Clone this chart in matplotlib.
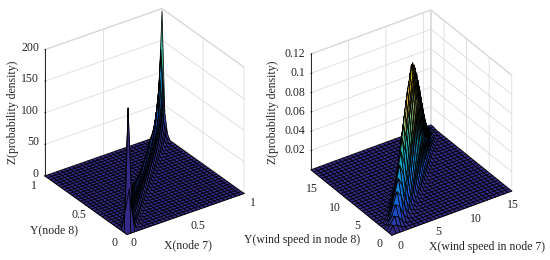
import numpy as np
import matplotlib
matplotlib.use('Agg')
import matplotlib.pyplot as plt
from matplotlib.colors import LinearSegmentedColormap
from mpl_toolkits.mplot3d import proj3d

plt.rcParams['font.family'] = ['Liberation Serif', 'DejaVu Serif']
plt.rcParams['font.size'] = 8.5

parula_colors = ['#352a87', '#0f5cdd', '#1481d6', '#06a4ca', '#2eb7a4',
                 '#87bf77', '#d1bb59', '#fec832', '#f9fb0e']
parula = LinearSegmentedColormap.from_list('parula', parula_colors)

# left panel: ridge heights along the diagonal, then the cells beside it
left_diag = [0, 195, 62, 58, 55, 52, 49, 47, 45, 44, 43, 42, 41, 41, 41, 41,
             42, 43, 44, 45, 46, 47, 48, 50, 55, 62, 72, 85, 105, 140, 195]
left_off1 = [0, 30, 18, 16, 14, 13, 12, 11, 11, 10, 10, 10, 10, 10, 10, 10,
             10, 10, 11, 11, 11, 12, 12, 13, 14, 16, 18, 22, 28, 40]
left_off2 = [0, 2, 4, 3, 3, 2, 2, 2, 2, 2, 2, 2, 2, 2, 2, 2,
             2, 2, 2, 2, 2, 2, 2, 3, 3, 4, 5, 6, 8]

# right panel
right_diag = [0, 0.006, 0.012, 0.02, 0.03, 0.04, 0.05, 0.06, 0.07, 0.08,
              0.09, 0.098, 0.105, 0.11, 0.115, 0.12, 0.118, 0.112, 0.105, 0.096,
              0.085, 0.075, 0.062, 0.05, 0.037, 0.026, 0.016, 0.01, 0.005, 0.002, 0.001]
right_off1 = [0, 0.005, 0.01, 0.017, 0.024, 0.031, 0.038, 0.045, 0.052, 0.06,
              0.066, 0.072, 0.077, 0.08, 0.083, 0.083, 0.079, 0.074, 0.068, 0.06,
              0.052, 0.044, 0.035, 0.026, 0.019, 0.012, 0.007, 0.004, 0.002, 0.001]
right_off2 = [0, 0.002, 0.004, 0.007, 0.011, 0.014, 0.018, 0.022, 0.026, 0.03,
              0.034, 0.037, 0.04, 0.042, 0.043, 0.042, 0.04, 0.036, 0.032, 0.027,
              0.022, 0.018, 0.013, 0.009, 0.006, 0.004, 0.002, 0.001, 0.0]
right_off3 = [0.0, 0.0, 0.001, 0.002, 0.003, 0.004, 0.005, 0.006, 0.007, 0.009,
              0.01, 0.011, 0.012, 0.012, 0.013, 0.012, 0.011, 0.01, 0.008, 0.007,
              0.005, 0.004, 0.003, 0.002, 0.001, 0.0, 0.0, 0.0]
right_off4 = [0.0, 0.0, 0.0, 0.0, 0.001, 0.001, 0.001, 0.001, 0.002, 0.002,
              0.002, 0.002, 0.002, 0.002, 0.002, 0.002, 0.002, 0.002, 0.001, 0.001,
              0.001, 0.001, 0.0, 0.0, 0.0, 0.0, 0.0]

left_ticks = [0, 0.5, 1]
left_ticklabels = ['0', '0.5', '1']
left_zticks = [0, 50, 100, 150, 200]
left_zticklabels = ['0', '50', '100', '150', '200']
right_ticks = [0, 5, 10, 15]
right_ticklabels = ['0', '5', '10', '15']
right_zticks = [0.02, 0.04, 0.06, 0.08, 0.1, 0.12]
right_zticklabels = ['0.02', '0.04', '0.06', '0.08', '0.1', '0.12']


def ridge_grid(diagonals):
    Z = np.zeros((31, 31))
    for k, vals in enumerate(diagonals):
        vals = np.array(vals)
        Z += np.diag(vals, k)
        if k > 0:
            Z += np.diag(vals, -k)
    return Z


def panel(pos, Z, C, top, xmax, ymax, ticks, ticklabels, zticks, zticklabels, elev, azim, zr,
          xoffs, yoffs, zoff):
    ax = fig.add_axes(pos, projection='3d', proj_type='ortho')
    ax.set_box_aspect((1, 1, zr))
    ax.view_init(elev=elev, azim=azim)
    X, Y = np.meshgrid(np.linspace(0, xmax, 31), np.linspace(0, ymax, 31))
    # face takes the colour of its first corner, like matlab's surf
    ax.plot_surface(X, Y, Z, rstride=1, cstride=1, facecolors=parula(C),
                    edgecolor='black', linewidth=0.55, shade=False)
    ax.set_xlim(0, xmax)
    ax.set_ylim(0, ymax)
    ax.set_zlim(0, top)
    ax.set_xticks(ticks)
    ax.set_yticks(ticks)
    ax.set_zticks(zticks)
    ax.set_xticklabels([])
    ax.set_yticklabels([])
    ax.set_zticklabels([])
    ax.patch.set_alpha(0)
    for axis in [ax.xaxis, ax.yaxis, ax.zaxis]:
        axis.set_pane_color((1, 1, 1, 1))
        axis.pane.set_edgecolor('#d8d8d8')
        axis.line.set_color('#262626')
        axis.line.set_linewidth(0.7)
        axis._axinfo['grid']['color'] = '#dcdcdc'
        axis._axinfo['grid']['linewidth'] = 0.6
        axis._axinfo['tick']['inward_factor'] = 0.0
        axis._axinfo['tick']['outward_factor'] = 0.08
        axis._axinfo['tick']['linewidth'] = {True: 0.6, False: 0.4}

    # tick labels sit at the projected tick, shifted in pixels
    M = ax.get_proj()
    for v, s, off in zip(ticks, ticklabels, xoffs):
        px, py, _ = proj3d.proj_transform(v, 0, 0, M)
        ax.annotate(s, (px, py), xytext=off, textcoords='offset pixels',
                    ha='center', va='center', color='#262626', annotation_clip=False)
    for v, s, off in zip(ticks, ticklabels, yoffs):
        px, py, _ = proj3d.proj_transform(0, v, 0, M)
        ax.annotate(s, (px, py), xytext=off, textcoords='offset pixels',
                    ha='center', va='center', color='#262626', annotation_clip=False)
    for v, s in zip(zticks, zticklabels):
        px, py, _ = proj3d.proj_transform(0, ymax, v, M)
        ax.annotate(s, (px, py), xytext=zoff, textcoords='offset pixels',
                    ha='right', va='center', color='#262626', annotation_clip=False)
    return ax


def label(x, y, s, rotation=0):
    fig.text(x / 550, 1 - y / 260, s, ha='center', va='center', rotation=rotation,
             color='#262626')


fig = plt.figure(figsize=(5.5, 2.6), dpi=100)

Z_left = ridge_grid([left_diag, left_off1, left_off2])
C_left = (Z_left / 200) ** 1.8  # low part of the ridge stays dark
C_left[1, 1] = 0  # front spike shows no yellow
panel([20.2 / 550, 14.2 / 260, 242 / 550, 242 / 260],
      Z_left, C_left, 200, 1, 1,
      left_ticks, left_ticklabels, left_zticks, left_zticklabels,
      30, -125, 1.02,
      [(7, -9), (12, -12), (9, -10)], [(-12, -9), (-6.5, -9.5), (-11, -10)], (-6, 2))

Z_right = ridge_grid([right_diag, right_off1, right_off2, right_off3, right_off4])
panel([288.4 / 550, 14.5 / 260, 239.5 / 550, 239.5 / 260],
      Z_right, Z_right / 0.12, 0.12, 16, 17.9,
      right_ticks, right_ticklabels, right_zticks, right_zticklabels,
      33, -124, 0.955,
      [(9, -11)] * 4, [(-12, -9)] * 4, (-6, 0))

label(188, 245, 'X(node 7)')
label(54.3, 230, 'Y(node 8)')
label(12.7, 112, 'Z(probability density)', 90)
label(486.7, 246.7, 'X(wind speed in node 7)')
label(302, 240, 'Y(wind speed in node 8)')
label(273, 112, 'Z(probability density)', 90)

fig.savefig('out.png', dpi=100)
